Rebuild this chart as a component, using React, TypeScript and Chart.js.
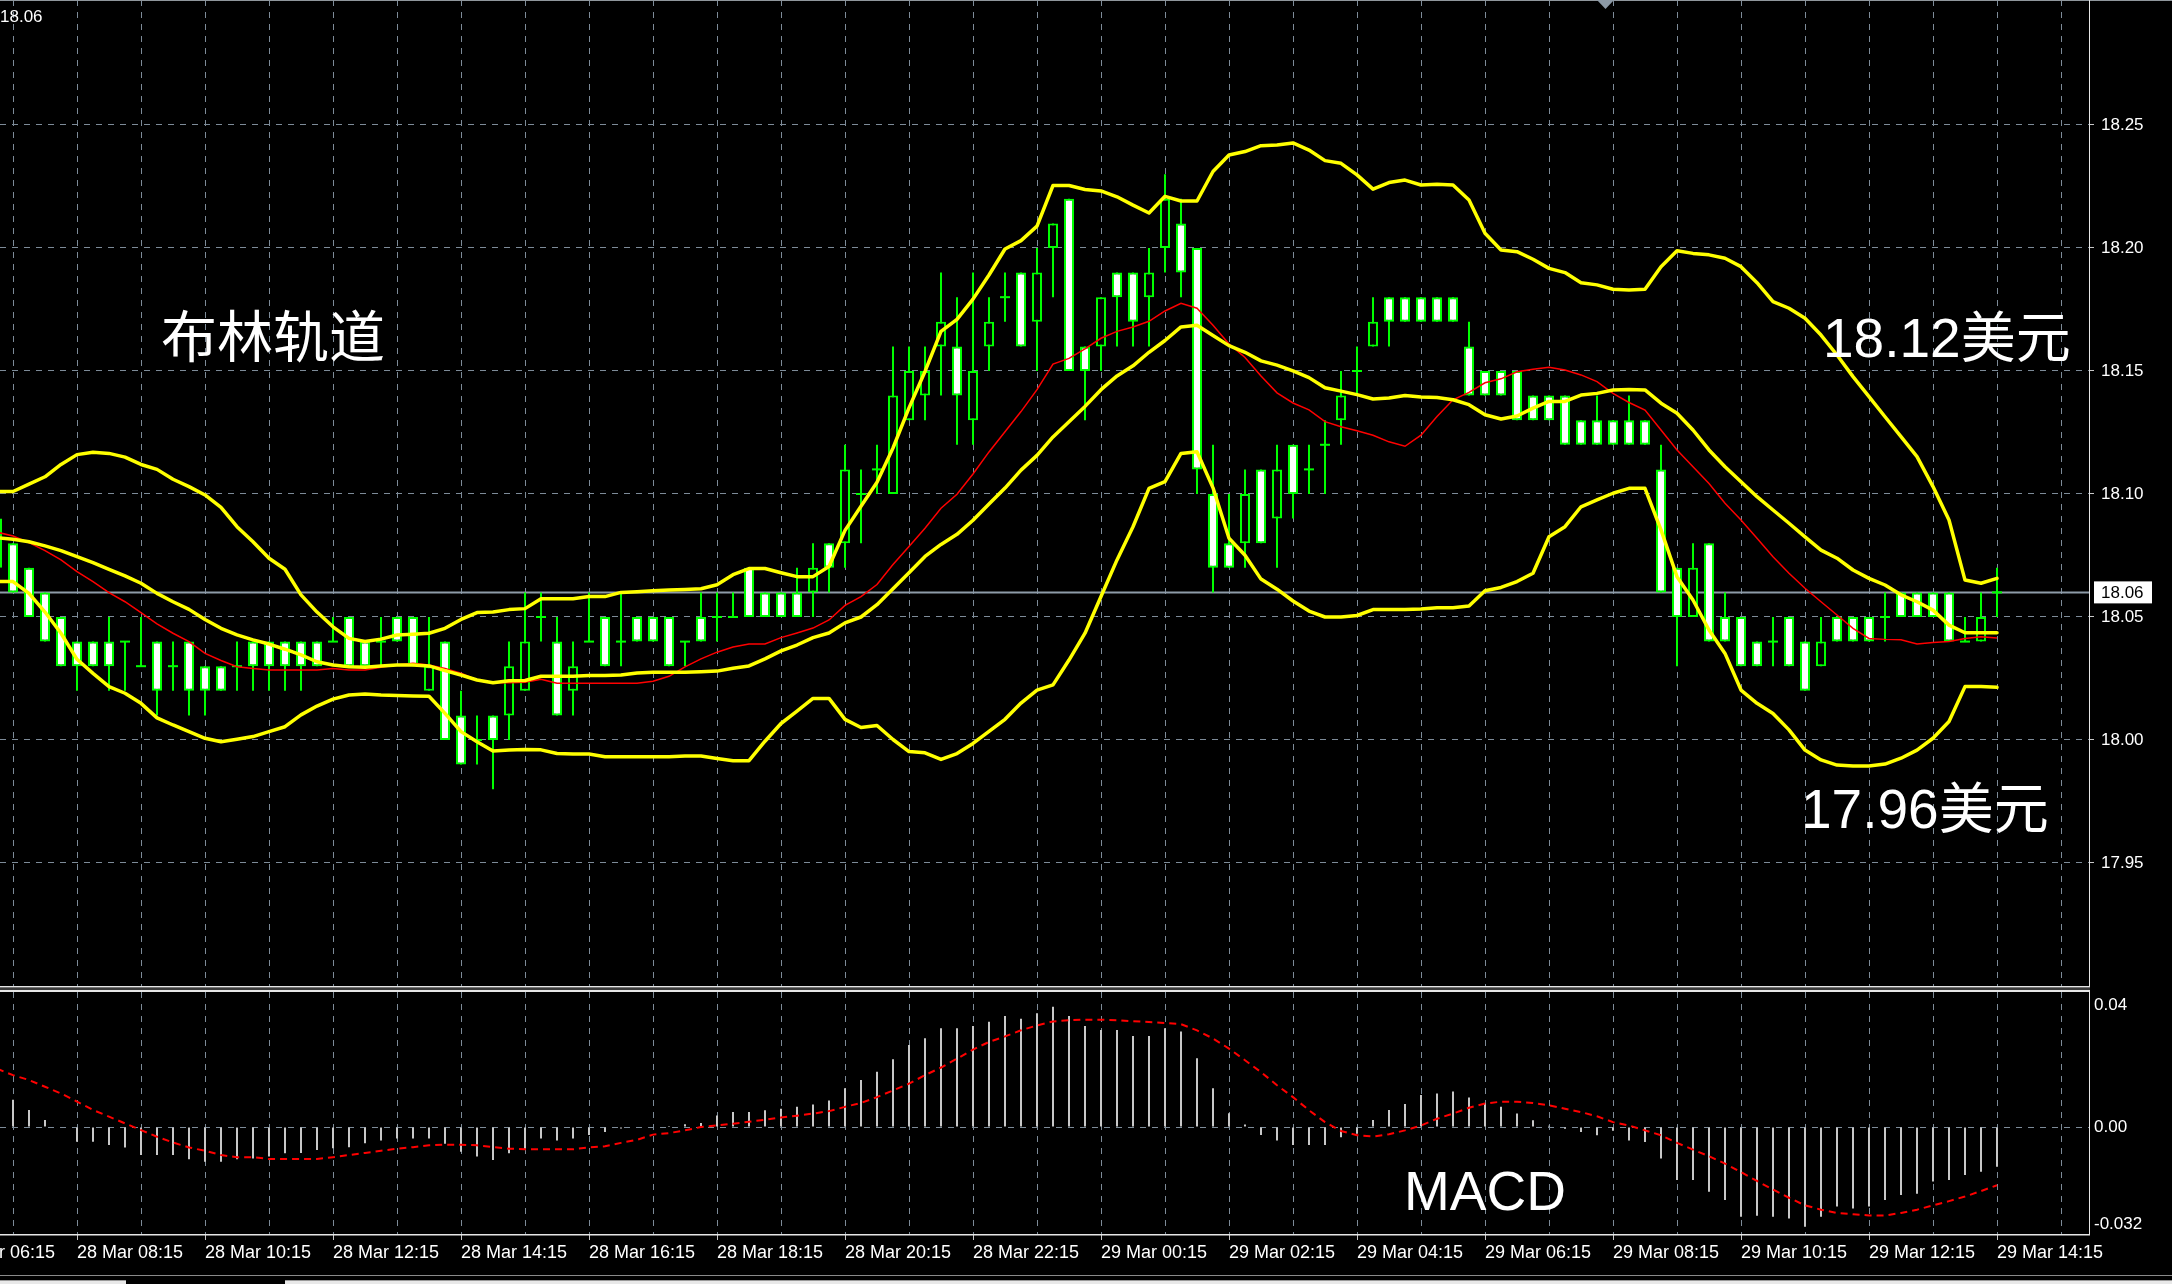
import React, { useEffect, useRef } from "react";
import { Chart, registerables } from "chart.js";

Chart.register(...registerables);

// ---------------- data (M15 candles, bar 0 = 28 Mar 07:15) ----------------
const firstBar = -1;

const opens = [
  18.09,
  18.08, 18.07, 18.06, 18.05, 18.04, 18.04, 18.04, 18.04, 18.03, 18.04,
  18.03, 18.04, 18.03, 18.03, 18.03, 18.04, 18.04, 18.04, 18.04, 18.04,
  18.04, 18.05, 18.04, 18.04, 18.05, 18.05, 18.02, 18.04, 18.01, 18.00,
  18.01, 18.01, 18.02, 18.05, 18.04, 18.02, 18.04, 18.05, 18.04, 18.05,
  18.05, 18.05, 18.04, 18.05, 18.05, 18.05, 18.07, 18.06, 18.06, 18.06,
  18.06, 18.08, 18.08, 18.10, 18.11, 18.10, 18.13, 18.14, 18.16, 18.16,
  18.13, 18.16, 18.18, 18.19, 18.17, 18.20, 18.22, 18.16, 18.16, 18.19,
  18.19, 18.18, 18.20, 18.21, 18.20, 18.10, 18.08, 18.08, 18.11, 18.09,
  18.12, 18.11, 18.12, 18.13, 18.15, 18.16, 18.18, 18.18, 18.18, 18.18,
  18.18, 18.16, 18.15, 18.15, 18.15, 18.14, 18.14, 18.14, 18.13, 18.13,
  18.13, 18.13, 18.13, 18.11, 18.07, 18.05, 18.08, 18.05, 18.05, 18.04,
  18.04, 18.05, 18.04, 18.03, 18.05, 18.05, 18.05, 18.05, 18.06, 18.06,
  18.06, 18.06, 18.04, 18.04, 18.06,
];
const highs = [
  18.09,
  18.08, 18.07, 18.06, 18.05, 18.04, 18.04, 18.05, 18.04, 18.05, 18.04,
  18.04, 18.04, 18.03, 18.03, 18.04, 18.04, 18.04, 18.04, 18.04, 18.04,
  18.05, 18.05, 18.04, 18.05, 18.05, 18.05, 18.05, 18.04, 18.02, 18.01,
  18.01, 18.04, 18.06, 18.06, 18.05, 18.04, 18.06, 18.05, 18.06, 18.05,
  18.05, 18.05, 18.04, 18.06, 18.06, 18.06, 18.07, 18.06, 18.06, 18.07,
  18.08, 18.08, 18.12, 18.11, 18.12, 18.16, 18.16, 18.16, 18.19, 18.18,
  18.19, 18.18, 18.19, 18.19, 18.20, 18.21, 18.22, 18.16, 18.18, 18.19,
  18.19, 18.20, 18.23, 18.22, 18.20, 18.12, 18.10, 18.11, 18.11, 18.12,
  18.12, 18.12, 18.13, 18.15, 18.16, 18.18, 18.18, 18.18, 18.18, 18.18,
  18.18, 18.17, 18.15, 18.15, 18.15, 18.14, 18.14, 18.14, 18.13, 18.14,
  18.13, 18.14, 18.13, 18.12, 18.07, 18.08, 18.08, 18.06, 18.05, 18.04,
  18.05, 18.05, 18.04, 18.05, 18.05, 18.05, 18.05, 18.06, 18.06, 18.06,
  18.06, 18.06, 18.05, 18.06, 18.07,
];
const lows = [
  18.07,
  18.06, 18.05, 18.04, 18.03, 18.02, 18.03, 18.02, 18.02, 18.03, 18.01,
  18.02, 18.01, 18.01, 18.02, 18.02, 18.02, 18.02, 18.02, 18.02, 18.03,
  18.04, 18.03, 18.03, 18.03, 18.04, 18.03, 18.02, 18.00, 17.99, 17.99,
  17.98, 18.00, 18.02, 18.04, 18.01, 18.01, 18.04, 18.03, 18.03, 18.04,
  18.04, 18.03, 18.03, 18.04, 18.04, 18.05, 18.05, 18.05, 18.05, 18.05,
  18.05, 18.06, 18.07, 18.08, 18.10, 18.10, 18.13, 18.13, 18.14, 18.12,
  18.12, 18.15, 18.17, 18.16, 18.15, 18.18, 18.15, 18.13, 18.15, 18.16,
  18.16, 18.16, 18.19, 18.18, 18.10, 18.06, 18.07, 18.07, 18.08, 18.07,
  18.09, 18.10, 18.10, 18.12, 18.14, 18.16, 18.16, 18.17, 18.17, 18.17,
  18.17, 18.14, 18.14, 18.14, 18.13, 18.13, 18.13, 18.12, 18.12, 18.12,
  18.12, 18.12, 18.12, 18.06, 18.03, 18.05, 18.04, 18.04, 18.03, 18.03,
  18.03, 18.03, 18.02, 18.03, 18.04, 18.04, 18.04, 18.04, 18.05, 18.05,
  18.05, 18.04, 18.04, 18.04, 18.05,
];
const closes = [
  18.07,
  18.06, 18.05, 18.04, 18.03, 18.03, 18.03, 18.03, 18.04, 18.03, 18.02,
  18.03, 18.02, 18.02, 18.02, 18.03, 18.03, 18.03, 18.03, 18.03, 18.03,
  18.04, 18.03, 18.03, 18.04, 18.04, 18.03, 18.03, 18.00, 17.99, 18.00,
  18.00, 18.03, 18.04, 18.05, 18.01, 18.03, 18.04, 18.03, 18.04, 18.04,
  18.04, 18.03, 18.04, 18.04, 18.05, 18.05, 18.05, 18.05, 18.05, 18.05,
  18.07, 18.07, 18.11, 18.10, 18.11, 18.14, 18.15, 18.15, 18.17, 18.14,
  18.15, 18.17, 18.18, 18.16, 18.19, 18.21, 18.15, 18.15, 18.18, 18.18,
  18.17, 18.19, 18.22, 18.19, 18.11, 18.07, 18.07, 18.10, 18.08, 18.11,
  18.10, 18.11, 18.12, 18.14, 18.15, 18.17, 18.17, 18.17, 18.17, 18.17,
  18.17, 18.14, 18.14, 18.14, 18.13, 18.13, 18.13, 18.12, 18.12, 18.12,
  18.12, 18.12, 18.12, 18.06, 18.05, 18.07, 18.04, 18.04, 18.03, 18.03,
  18.04, 18.03, 18.02, 18.04, 18.04, 18.04, 18.04, 18.05, 18.05, 18.05,
  18.05, 18.04, 18.04, 18.05, 18.06,
];

const upperBand = [
  18.101,
  18.101, 18.104, 18.107, 18.112, 18.116, 18.117, 18.1165, 18.115, 18.112, 18.110,
  18.106, 18.103, 18.0996, 18.0946, 18.0867, 18.0806, 18.0739, 18.0694, 18.059, 18.052,
  18.046, 18.0413, 18.040, 18.041, 18.0427, 18.043, 18.0434, 18.0454, 18.049, 18.0518,
  18.052, 18.053, 18.0534, 18.0574, 18.0574, 18.0574, 18.0583, 18.0583, 18.060, 18.0603,
  18.0607, 18.061, 18.0612, 18.0615, 18.0631, 18.0672, 18.0697, 18.0697, 18.068, 18.0664,
  18.0664, 18.0705, 18.0852, 18.095, 18.1048, 18.1187, 18.135, 18.1498, 18.1661, 18.171,
  18.1792, 18.189, 18.1996, 18.203, 18.2089, 18.2254, 18.2254, 18.2238, 18.2232, 18.2208,
  18.2174, 18.2142, 18.221, 18.2191, 18.2191, 18.2311, 18.2378, 18.2392, 18.2416, 18.2419,
  18.2427, 18.2398, 18.2355, 18.2344, 18.2297, 18.2239, 18.2266, 18.2276, 18.2256, 18.2259,
  18.2256, 18.2195, 18.206, 18.1992, 18.1985, 18.1954, 18.1917, 18.19, 18.1859, 18.185,
  18.1832, 18.1829, 18.1832, 18.1924, 18.1989, 18.1978, 18.1972, 18.1958, 18.1924, 18.1859,
  18.1782, 18.1755, 18.1714, 18.1646, 18.1565, 18.1477, 18.1396, 18.1314, 18.1233, 18.1152,
  18.103, 18.0894, 18.065, 18.0637, 18.0657,
];
const middleBand = [
  18.0822,
  18.0816, 18.0806, 18.0789, 18.077, 18.0745, 18.0721, 18.0694, 18.0667, 18.0637, 18.0596,
  18.0562, 18.0531, 18.049, 18.0454, 18.0427, 18.0407, 18.039, 18.0369, 18.0346, 18.0318,
  18.0305, 18.0298, 18.0296, 18.0301, 18.0305, 18.0305, 18.0301, 18.0282, 18.0264, 18.0244,
  18.0233, 18.0241, 18.0242, 18.0259, 18.0259, 18.0259, 18.0262, 18.0262, 18.0264, 18.0272,
  18.0275, 18.0275, 18.0275, 18.0277, 18.028, 18.0292, 18.0301, 18.033, 18.0362, 18.0386,
  18.0416, 18.0435, 18.0476, 18.05, 18.055, 18.0615, 18.068, 18.0746, 18.0795, 18.0836,
  18.0893, 18.0959, 18.1024, 18.1097, 18.1157, 18.1232, 18.1294, 18.1356, 18.1424, 18.148,
  18.1521, 18.1576, 18.1624, 18.1679, 18.1686, 18.1644, 18.1603, 18.1576, 18.1541, 18.1524,
  18.15, 18.1473, 18.1432, 18.1418, 18.1404, 18.1386, 18.139, 18.14, 18.1394, 18.1392,
  18.1383, 18.1363, 18.1322, 18.1305, 18.1317, 18.1349, 18.1376, 18.1376, 18.1402, 18.1409,
  18.1423, 18.1425, 18.1423, 18.1369, 18.1328, 18.126, 18.1179, 18.1111, 18.105, 18.0989,
  18.0935, 18.0881, 18.0826, 18.0772, 18.0739, 18.0691, 18.0657, 18.063, 18.059, 18.0562,
  18.0528, 18.0467, 18.0436, 18.0436, 18.0436,
];
const lowerBand = [
  18.0644,
  18.0644, 18.0596, 18.052, 18.0434, 18.0328, 18.0271, 18.0217, 18.019, 18.0149, 18.009,
  18.0061, 18.0034, 18.0007, 17.9993, 18.0003, 18.0014, 18.0034, 18.0054, 18.0102, 18.0138,
  18.0166, 18.0183, 18.0187, 18.0183, 18.0181, 18.0179, 18.0178, 18.0108, 18.0034, 17.9993,
  17.9955, 17.9959, 17.9961, 17.996, 17.9945, 17.9943, 17.9943, 17.9932, 17.9932, 17.9932,
  17.9932, 17.9932, 17.9935, 17.9935, 17.9925, 17.9916, 17.9916, 17.9995, 18.0067, 18.0117,
  18.0169, 18.0169, 18.0084, 18.0051, 18.0059, 18.0002, 17.9953, 17.9948, 17.9921, 17.9945,
  17.9986, 18.0035, 18.0084, 18.015, 18.0203, 18.0224, 18.0325, 18.0434, 18.0583, 18.0732,
  18.0867, 18.1023, 18.105, 18.1165, 18.1172, 18.1025, 18.082, 18.0751, 18.0654, 18.0613,
  18.0565, 18.0524, 18.05, 18.05, 18.0506, 18.053, 18.053, 18.053, 18.0532, 18.0538,
  18.0538, 18.0545, 18.0607, 18.062, 18.0644, 18.0678, 18.0826, 18.0867, 18.0948, 18.0976,
  18.1003, 18.1023, 18.1023, 18.0854, 18.0664, 18.0569, 18.0447, 18.0352, 18.0203, 18.0149,
  18.0108, 18.0041, 17.9959, 17.9919, 17.9898, 17.9894, 17.9894, 17.9902, 17.9926, 17.9959,
  18.0007, 18.0075, 18.0217, 18.0217, 18.0214,
];
const fastMA = [
  18.0845,
  18.0829, 18.0802, 18.077, 18.0732, 18.0684, 18.0644, 18.0599, 18.0562, 18.0518, 18.0472,
  18.0434, 18.04, 18.0352, 18.0323, 18.0298, 18.0291, 18.0285, 18.0285, 18.0285, 18.0285,
  18.0291, 18.0285, 18.0285, 18.0296, 18.0305, 18.0312, 18.0305, 18.0291, 18.0271, 18.0244,
  18.0233, 18.0233, 18.0235, 18.0247, 18.0231, 18.0231, 18.0231, 18.0231, 18.0231, 18.0231,
  18.0239, 18.0259, 18.0297, 18.033, 18.0357, 18.0378, 18.039, 18.039, 18.0416, 18.0435,
  18.0455, 18.0488, 18.0547, 18.0583, 18.0632, 18.0713, 18.0787, 18.0861, 18.0942, 18.0999,
  18.1081, 18.1171, 18.1253, 18.1335, 18.1424, 18.1528, 18.1551, 18.159, 18.1633, 18.1661,
  18.1679, 18.1702, 18.1744, 18.1775, 18.1755, 18.1686, 18.161, 18.1555, 18.148, 18.1411,
  18.137, 18.1342, 18.1294, 18.1273, 18.1257, 18.1239, 18.1212, 18.1194, 18.1239, 18.1315,
  18.1383, 18.1413, 18.1452, 18.1468, 18.1497, 18.1507, 18.1515, 18.1504, 18.1484, 18.1457,
  18.1409, 18.1372, 18.1341, 18.126, 18.1179, 18.1111, 18.1043, 18.0962, 18.0894, 18.082,
  18.0745, 18.0678, 18.0617, 18.0562, 18.0508, 18.0454, 18.0413, 18.0409, 18.0407, 18.039,
  18.0396, 18.04, 18.0413, 18.042, 18.0415,
];

const macdHist = [
  0.011,
  0.0089, 0.0056, 0.0023, 0.0, -0.0048, -0.0048, -0.0059, -0.0067, -0.0092, -0.0092,
  -0.0092, -0.0106, -0.0114, -0.0114, -0.0106, -0.0103, -0.0097, -0.0086, -0.0085, -0.0075,
  -0.007, -0.0066, -0.0053, -0.0044, -0.0038, -0.0038, -0.0038, -0.0055, -0.0081, -0.0097,
  -0.0108, -0.0086, -0.0071, -0.0038, -0.0044, -0.0038, -0.0026, -0.0016, -0.0005, 0.0,
  0.0, 0.0003, 0.0009, 0.0013, 0.0038, 0.0049, 0.0049, 0.0055, 0.006, 0.0066,
  0.0074, 0.0087, 0.0127, 0.0154, 0.0181, 0.0222, 0.0269, 0.0291, 0.0324, 0.0324,
  0.0331, 0.0345, 0.0364, 0.0355, 0.0373, 0.0394, 0.0364, 0.0331, 0.0318, 0.0318,
  0.0298, 0.0298, 0.0324, 0.0313, 0.0225, 0.0127, 0.0045, 0.0008, -0.0026, -0.0044,
  -0.0059, -0.0059, -0.0059, -0.0034, -0.0022, 0.0023, 0.0056, 0.0075, 0.0105, 0.011,
  0.0116, 0.0097, 0.0078, 0.0066, 0.0044, 0.0022, 0.0004, -0.0006, -0.0016, -0.0027,
  -0.0012, -0.0044, -0.0049, -0.0103, -0.0174, -0.0174, -0.0212, -0.0239, -0.0294, -0.0291,
  -0.0294, -0.03, -0.0327, -0.0294, -0.0261, -0.0267, -0.0261, -0.0239, -0.0223, -0.0219,
  -0.0179, -0.0174, -0.0157, -0.0147, -0.013,
];
const macdSignal = [
  0.0191,
  0.017, 0.0154, 0.0132, 0.011, 0.0083, 0.0056, 0.0034, 0.0012, -0.001, -0.0032,
  -0.0051, -0.0067, -0.0078, -0.0092, -0.0099, -0.0099, -0.0105, -0.0105, -0.0105, -0.0105,
  -0.0099, -0.0092, -0.0085, -0.0078, -0.0071, -0.0066, -0.006, -0.0058, -0.0058, -0.006,
  -0.0066, -0.0071, -0.0073, -0.0073, -0.0073, -0.0073, -0.0067, -0.0063, -0.0052, -0.0042,
  -0.0025, -0.002, -0.0011, 0.0, 0.0005, 0.0011, 0.0017, 0.0024, 0.0031, 0.0037,
  0.0044, 0.0052, 0.0066, 0.0079, 0.0098, 0.012, 0.0142, 0.017, 0.0195, 0.0224,
  0.0254, 0.0279, 0.0297, 0.0317, 0.0333, 0.0346, 0.035, 0.0352, 0.0352, 0.035,
  0.0347, 0.0344, 0.0341, 0.0337, 0.0317, 0.029, 0.0257, 0.0219, 0.018, 0.0137,
  0.0098, 0.0055, 0.0016, -0.0013, -0.0027, -0.0031, -0.0024, -0.0011, 0.0005, 0.0027,
  0.0044, 0.0063, 0.0077, 0.0083, 0.0083, 0.0079, 0.0071, 0.006, 0.0049, 0.0035,
  0.0016, 0.0005, -0.0011, -0.0027, -0.0052, -0.0074, -0.0096, -0.012, -0.0148, -0.0177,
  -0.0205, -0.0232, -0.0257, -0.0271, -0.0282, -0.0286, -0.029, -0.029, -0.0282, -0.0271,
  -0.0257, -0.0243, -0.0228, -0.021, -0.0191,
];

const priceTicks = [17.95, 18.0, 18.05, 18.1, 18.15, 18.2, 18.25];
const macdTicks = [-0.032, 0, 0.04];
const macdTickLabels = ["-0.032", "0.00", "0.04"];
const hourGridBars = [0, 4, 8, 12, 16, 20, 24, 28, 32, 36, 40, 44, 48, 52, 56, 60, 64, 68, 72, 76, 80, 84, 88, 92, 96, 100, 104, 108, 112, 116, 120, 124, 128];
const timeLabelBars = [-4, 4, 12, 20, 28, 36, 44, 52, 60, 68, 76, 84, 92, 100, 108, 116, 124];
const timeLabels = [
  "28 Mar 06:15", "28 Mar 08:15", "28 Mar 10:15", "28 Mar 12:15", "28 Mar 14:15",
  "28 Mar 16:15", "28 Mar 18:15", "28 Mar 20:15", "28 Mar 22:15", "29 Mar 00:15",
  "29 Mar 02:15", "29 Mar 04:15", "29 Mar 06:15", "29 Mar 08:15", "29 Mar 10:15",
  "29 Mar 12:15", "29 Mar 14:15",
];
const currentPrice = 18.06;
const currentPriceLabel = "18.06";
const titleText = "布林轨道";
const upperNote = "18.12美元";
const lowerNote = "17.96美元";
const macdTitle = "MACD";

// ---------------- styling ----------------
const GRID = "#7d8b98";
const LIME = "#00ff00";
const YELLOW = "#ffff00";
const LATIN = '"Liberation Sans", Arial, sans-serif';
const MIXED = '"Liberation Sans", "Noto Sans CJK SC", sans-serif';
const X_MIN = -0.8125;
const X_MAX = 129.75;
const AXIS_W = 83;

const barIndex = opens.map((_, k) => k + firstBar);
const series = (arr: number[]) => arr.map((v, k) => ({ x: barIndex[k], y: v }));

const mainDecor = {
  id: "mainDecor",
  beforeDatasetsDraw(chart: any) {
    const { ctx, chartArea: a, scales } = chart;
    const y = scales.y.getPixelForValue(currentPrice);
    ctx.save();
    ctx.strokeStyle = "#8e9ba8";
    ctx.lineWidth = 2;
    ctx.beginPath();
    ctx.moveTo(a.left, y);
    ctx.lineTo(a.right, y);
    ctx.stroke();
    ctx.restore();
  },
  afterDraw(chart: any) {
    const { ctx, chartArea: a, scales } = chart;
    ctx.save();
    ctx.fillStyle = "#8f969c";
    ctx.fillRect(0, 0, chart.width, 1);
    ctx.fillStyle = "#e6e6e6";
    ctx.fillRect(a.right, 0, 1, a.bottom);
    ctx.fillRect(0, a.bottom, a.right + 1, 1.5);
    const y = scales.y.getPixelForValue(currentPrice);
    ctx.fillStyle = "#ffffff";
    ctx.fillRect(a.right + 5, y - 11, 58, 22);
    ctx.fillStyle = "#000000";
    ctx.font = `17px ${LATIN}`;
    ctx.textAlign = "left";
    ctx.textBaseline = "middle";
    ctx.fillText(currentPriceLabel, a.right + 12, y + 1);
    ctx.fillStyle = "#ffffff";
    ctx.textBaseline = "alphabetic";
    ctx.fillText(currentPriceLabel, 0, 22);
    ctx.fillStyle = "#8c99a5";
    ctx.beginPath();
    ctx.moveTo(1597, 0);
    ctx.lineTo(1614, 0);
    ctx.lineTo(1605.5, 9);
    ctx.closePath();
    ctx.fill();
    ctx.fillStyle = "#ffffff";
    ctx.font = `56px "Noto Sans CJK SC", sans-serif`;
    ctx.textBaseline = "middle";
    ctx.fillText(titleText, 161, 336);
    ctx.font = `55px ${MIXED}`;
    ctx.textBaseline = "alphabetic";
    ctx.fillText(upperNote, 1823, 357);
    ctx.fillText(lowerNote, 1801, 828);
    ctx.restore();
  },
};

const macdDecor = {
  id: "macdDecor",
  afterDraw(chart: any) {
    const { ctx, chartArea: a, scales } = chart;
    ctx.save();
    ctx.fillStyle = "#3a3a3a";
    ctx.fillRect(0, 0, a.right + 1, 2);
    ctx.fillStyle = "#e6e6e6";
    ctx.fillRect(0, a.top - 2, a.right + 1, 2);
    ctx.fillRect(0, a.bottom, a.right + 1, 1.5);
    ctx.fillRect(a.right, a.top - 2, 1, a.bottom - a.top + 3);
    ctx.font = `18px ${LATIN}`;
    ctx.fillStyle = "#ffffff";
    ctx.textAlign = "left";
    ctx.textBaseline = "middle";
    timeLabelBars.forEach((b, k) => {
      if (b < scales.x.min) {
        ctx.fillText(timeLabels[k], scales.x.getPixelForValue(b), a.bottom + 6 + 2 + 10.8);
      }
    });
    ctx.font = `55px ${LATIN}`;
    ctx.textBaseline = "alphabetic";
    ctx.fillText(macdTitle, 1404, 222);
    ctx.restore();
  },
};

function mainConfig(): any {
  const bodies = barIndex.flatMap((x, k) =>
    opens[k] === closes[k] ? [] : [{ x, y: [opens[k], closes[k]], up: closes[k] > opens[k] }]
  );
  const dojis = barIndex.flatMap((x, k) => (opens[k] === closes[k] ? [{ x, y: closes[k] }] : []));
  const wicks = barIndex.map((x, k) => ({ x, y: [lows[k], highs[k]] }));
  const band = (arr: number[], order: number) => ({
    type: "line",
    data: series(arr),
    borderColor: YELLOW,
    borderWidth: 3.5,
    pointRadius: 0,
    tension: 0,
    borderJoinStyle: "round",
    borderCapStyle: "round",
    order,
  });
  return {
    type: "line",
    data: {
      datasets: [
        { type: "bar", data: wicks, backgroundColor: LIME, borderWidth: 0, barThickness: 2, grouped: false, inflateAmount: 0, order: 7 },
        {
          type: "bar",
          data: bodies,
          backgroundColor: (c: any) => (c.raw && c.raw.up ? "#000000" : "#ffffff"),
          borderColor: LIME,
          borderWidth: 2,
          borderSkipped: false,
          barThickness: 10,
          grouped: false,
          inflateAmount: 0,
          order: 6,
        },
        { type: "line", data: dojis, showLine: false, pointStyle: "line", pointRadius: 5, pointBorderColor: LIME, pointBorderWidth: 2, order: 5 },
        { type: "line", data: series(fastMA), borderColor: "#ff0000", borderWidth: 1.5, pointRadius: 0, tension: 0, order: 4 },
        band(lowerBand, 3),
        band(middleBand, 2),
        band(upperBand, 1),
      ],
    },
    options: {
      responsive: false,
      animation: false,
      devicePixelRatio: 1,
      events: [],
      layout: { autoPadding: false, padding: { left: 0, right: 0, top: 0, bottom: 2 } },
      plugins: { legend: { display: false }, tooltip: { enabled: false } },
      scales: {
        x: {
          type: "linear",
          min: X_MIN,
          max: X_MAX,
          offset: false,
          afterBuildTicks: (s: any) => { s.ticks = hourGridBars.map((v) => ({ value: v })); },
          afterFit: (s: any) => { s.height = 0; s.paddingLeft = 0; s.paddingRight = 0; },
          ticks: { display: false },
          grid: { color: GRID, lineWidth: 1, drawTicks: false, offset: false },
          border: { display: false, dash: [6, 6] },
        },
        y: {
          type: "linear",
          position: "right",
          min: 17.9,
          max: 18.3008,
          afterBuildTicks: (s: any) => { s.ticks = priceTicks.map((v) => ({ value: v })); },
          afterFit: (s: any) => { s.width = AXIS_W; s.paddingTop = 0; s.paddingBottom = 0; },
          ticks: { color: "#ffffff", font: { family: LATIN, size: 17 }, padding: 7, autoSkip: false, callback: (v: any) => Number(v).toFixed(2) },
          grid: { color: GRID, lineWidth: 1, drawTicks: true, tickLength: 5, tickColor: "#c8c8c8", tickWidth: 1 },
          border: { display: false, dash: [6, 6] },
        },
      },
    },
    plugins: [mainDecor],
  };
}

function macdConfig(): any {
  return {
    type: "line",
    data: {
      datasets: [
        { type: "bar", data: series(macdHist), backgroundColor: "#c8c8c8", borderWidth: 0, barThickness: 2, grouped: false, inflateAmount: 0, order: 2 },
        { type: "line", data: series(macdSignal), borderColor: "#ff0000", borderWidth: 2, borderDash: [7, 5], pointRadius: 0, tension: 0, order: 1 },
      ],
    },
    options: {
      responsive: false,
      animation: false,
      devicePixelRatio: 1,
      events: [],
      layout: { autoPadding: false, padding: { left: 0, right: 0, top: 4, bottom: 0 } },
      plugins: { legend: { display: false }, tooltip: { enabled: false } },
      scales: {
        x: {
          type: "linear",
          min: X_MIN,
          max: X_MAX,
          offset: false,
          afterBuildTicks: (s: any) => { s.ticks = hourGridBars.map((v) => ({ value: v })); },
          afterFit: (s: any) => { s.height = 41; s.paddingLeft = 0; s.paddingRight = 0; },
          ticks: {
            color: "#ffffff",
            font: { family: LATIN, size: 18 },
            align: "start",
            autoSkip: false,
            maxRotation: 0,
            minRotation: 0,
            padding: 2,
            callback: (v: any) => {
              const k = timeLabelBars.indexOf(Number(v));
              return k >= 0 ? timeLabels[k] : "";
            },
          },
          grid: {
            color: GRID,
            lineWidth: 1,
            drawTicks: true,
            tickLength: 6,
            tickWidth: 1,
            offset: false,
            tickColor: (c: any) => (c.tick && timeLabelBars.includes(c.tick.value) ? "#c8c8c8" : "rgba(0,0,0,0)"),
          },
          border: { display: false, dash: [6, 6] },
        },
        y: {
          type: "linear",
          position: "right",
          min: -0.03508,
          max: 0.04426,
          afterBuildTicks: (s: any) => { s.ticks = macdTicks.map((v) => ({ value: v })); },
          afterFit: (s: any) => { s.width = AXIS_W; s.paddingTop = 0; s.paddingBottom = 0; },
          ticks: {
            color: "#ffffff",
            font: { family: LATIN, size: 17 },
            padding: 5,
            autoSkip: false,
            callback: (v: any) => {
              const k = macdTicks.indexOf(Number(v));
              return k >= 0 ? macdTickLabels[k] : "";
            },
          },
          grid: {
            color: (c: any) => (c.tick && c.tick.value === 0 ? GRID : "rgba(0,0,0,0)"),
            lineWidth: 1,
            drawTicks: false,
          },
          border: { display: false, dash: [6, 6] },
        },
      },
    },
    plugins: [macdDecor],
  };
}

export default function App() {
  const mainRef = useRef<HTMLCanvasElement>(null);
  const macdRef = useRef<HTMLCanvasElement>(null);

  useEffect(() => {
    const main = new Chart(mainRef.current as HTMLCanvasElement, mainConfig());
    const macd = new Chart(macdRef.current as HTMLCanvasElement, macdConfig());
    return () => {
      main.destroy();
      macd.destroy();
    };
  }, []);

  return (
    <div style={{ position: "fixed", left: 0, top: 0, width: 2172, height: 1284, background: "#000", overflow: "hidden" }}>
      <canvas ref={mainRef} width={2172} height={988} style={{ position: "absolute", left: 0, top: 0, width: 2172, height: 988 }} />
      <canvas ref={macdRef} width={2172} height={287} style={{ position: "absolute", left: 0, top: 988, width: 2172, height: 287 }} />
      <div style={{ position: "absolute", left: 0, top: 1275, width: 2172, height: 1, background: "#8a8a8a" }} />
      <div style={{ position: "absolute", left: 0, top: 1280, width: 126, height: 4, background: "#e8e8e8", borderTop: "1px solid #9a9a9a" }} />
      <div style={{ position: "absolute", left: 285, top: 1280, width: 1887, height: 4, background: "#e8e8e8", borderTop: "1px solid #9a9a9a" }} />
    </div>
  );
}
